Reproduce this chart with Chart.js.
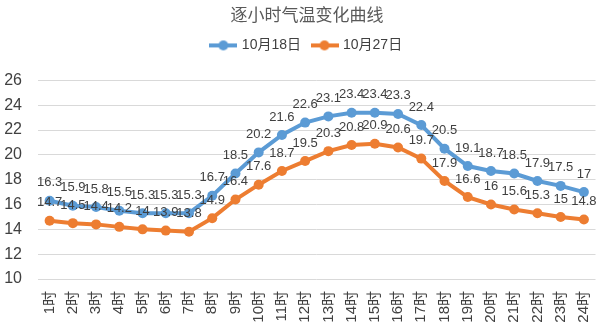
<!DOCTYPE html>
<html lang="zh">
  <head>
    <meta charset="UTF-8" />
    <title>逐小时气温变化曲线</title>
    <script src="https://cdn.jsdelivr.net/npm/chart.js"></script>
    <style>
      html, body { margin: 0; padding: 0; background: #fff; }
      #wrap { width: 614px; height: 328px; }
    </style>
  </head>
  <body>
    <div id="wrap"><canvas id="temp-chart"></canvas></div>

    <script>
      const hours = [
        '1时', '2时', '3时', '4时', '5时', '6时', '7时', '8时',
        '9时', '10时', '11时', '12时', '13时', '14时', '15时', '16时',
        '17时', '18时', '19时', '20时', '21时', '22时', '23时', '24时',
      ];
      const temp1018 = [
        16.3, 15.9, 15.8, 15.5, 15.3, 15.3, 15.3, 16.7, 18.5, 20.2, 21.6, 22.6,
        23.1, 23.4, 23.4, 23.3, 22.4, 20.5, 19.1, 18.7, 18.5, 17.9, 17.5, 17,
      ];
      const temp1027 = [
        14.7, 14.5, 14.4, 14.2, 14, 13.9, 13.8, 14.9, 16.4, 17.6, 18.7, 19.5,
        20.3, 20.8, 20.9, 20.6, 19.7, 17.9, 16.6, 16, 15.6, 15.3, 15, 14.8,
      ];
      const seriesNames = ['10月18日', '10月27日'];
      const yTicks = { min: 10, max: 26, step: 2 };

      const BLUE = '#5B9BD5';
      const ORANGE = '#ED7D31';
      const TEXT = '#404040';
      const FONT = "'Liberation Sans', 'Noto Sans CJK SC', sans-serif";

      // little line-with-dot marker for the legend
      function legendMarker(color) {
        const c = document.createElement('canvas');
        c.width = 28;
        c.height = 12;
        const g = c.getContext('2d');
        g.strokeStyle = color;
        g.lineWidth = 4;
        g.beginPath();
        g.moveTo(0, 6);
        g.lineTo(28, 6);
        g.stroke();
        g.fillStyle = color;
        g.beginPath();
        g.arc(14, 6, 5, 0, Math.PI * 2);
        g.fill();
        return c;
      }

      // value labels above each point
      const pointLabels = {
        id: 'pointLabels',
        afterDatasetsDraw(chart) {
          const ctx = chart.ctx;
          ctx.save();
          ctx.font = '13px ' + FONT;
          ctx.fillStyle = TEXT;
          ctx.textAlign = 'center';
          ctx.textBaseline = 'middle';
          chart.data.datasets.forEach((ds, i) => {
            chart.getDatasetMeta(i).data.forEach((pt, j) => {
              ctx.fillText(String(ds.data[j]), pt.x, pt.y - 18);
            });
          });
          ctx.restore();
        },
      };

      // extra gap between legend and plot
      const legendGap = {
        id: 'legendGap',
        beforeLayout(chart) {
          const lg = chart.legend;
          if (lg && !lg._gapPatched) {
            const fit = lg.fit;
            lg.fit = function () {
              fit.call(this);
              this.height += 18;
            };
            lg._gapPatched = true;
          }
        },
      };

      const ctx = document.getElementById('temp-chart').getContext('2d');
      new Chart(ctx, {
        type: 'line',
        data: {
          labels: hours,
          datasets: [
            {
              label: seriesNames[0],
              data: temp1018,
              borderColor: BLUE,
              backgroundColor: BLUE,
              borderWidth: 4,
              pointRadius: 5,
              pointHoverRadius: 5,
              pointBorderWidth: 0,
              tension: 0,
            },
            {
              label: seriesNames[1],
              data: temp1027,
              borderColor: ORANGE,
              backgroundColor: ORANGE,
              borderWidth: 4,
              pointRadius: 5,
              pointHoverRadius: 5,
              pointBorderWidth: 0,
              tension: 0,
            },
          ],
        },
        options: {
          responsive: true,
          maintainAspectRatio: false,
          animation: false,
          events: [],
          layout: { padding: { left: 0, right: 0, top: 0, bottom: 0 } },
          plugins: {
            title: {
              display: true,
              text: '逐小时气温变化曲线',
              color: '#595959',
              font: { family: "'Noto Sans CJK SC', sans-serif", size: 17, weight: 'normal' },
              padding: { top: 4, bottom: 2 },
            },
            legend: {
              display: true,
              labels: {
                color: TEXT,
                font: { family: FONT, size: 14 },
                usePointStyle: true,
                pointStyleWidth: 23,
                padding: 12,
                generateLabels(chart) {
                  return chart.data.datasets.map((ds, i) => ({
                    text: ds.label,
                    fillStyle: ds.borderColor,
                    strokeStyle: ds.borderColor,
                    fontColor: TEXT,
                    pointStyle: legendMarker(ds.borderColor),
                    datasetIndex: i,
                    hidden: false,
                    lineWidth: 0,
                  }));
                },
              },
            },
            tooltip: { enabled: false },
          },
          scales: {
            x: {
              offset: true,
              grid: { display: false, drawTicks: false },
              border: { display: false },
              ticks: {
                color: TEXT,
                font: { family: FONT, size: 15 },
                minRotation: 90,
                maxRotation: 90,
                autoSkip: false,
                padding: 12,
              },
              afterFit(scale) { scale.height = 49; },
            },
            y: {
              min: yTicks.min,
              max: yTicks.max,
              grid: { color: '#D9D9D9', drawTicks: false, lineWidth: 1 },
              border: { display: false },
              ticks: {
                stepSize: yTicks.step,
                color: TEXT,
                font: { family: FONT, size: 16 },
                padding: 16,
              },
              afterFit(scale) { scale.width = 38; },
            },
          },
        },
        plugins: [pointLabels, legendGap],
      });
    </script>
  </body>
</html>
